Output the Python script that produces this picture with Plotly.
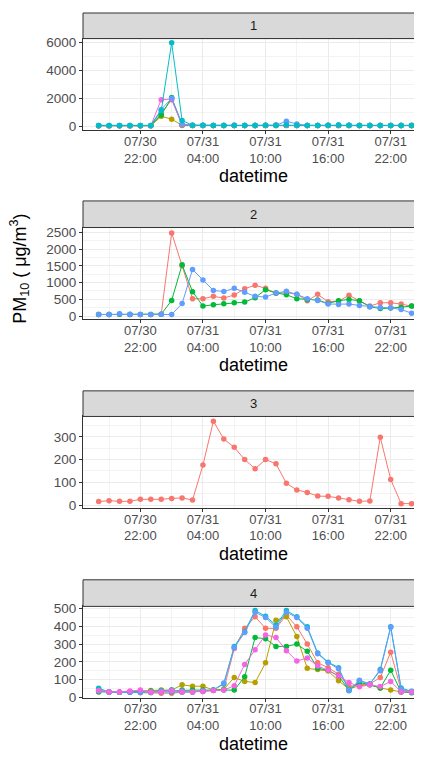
import plotly.graph_objects as go

# ---------------- data ----------------
times = [
    "2020-07-30 18:00", "2020-07-30 19:00", "2020-07-30 20:00", "2020-07-30 21:00",
    "2020-07-30 22:00", "2020-07-30 23:00", "2020-07-31 00:00", "2020-07-31 01:00",
    "2020-07-31 02:00", "2020-07-31 03:00", "2020-07-31 04:00", "2020-07-31 05:00",
    "2020-07-31 06:00", "2020-07-31 07:00", "2020-07-31 08:00", "2020-07-31 09:00",
    "2020-07-31 10:00", "2020-07-31 11:00", "2020-07-31 12:00", "2020-07-31 13:00",
    "2020-07-31 14:00", "2020-07-31 15:00", "2020-07-31 16:00", "2020-07-31 17:00",
    "2020-07-31 18:00", "2020-07-31 19:00", "2020-07-31 20:00", "2020-07-31 21:00",
    "2020-07-31 22:00", "2020-07-31 23:00", "2020-08-01 00:00",
]

panel_labels = ["1", "2", "3", "4"]

# Panel 1
p1_red =     [30, 30, 30, 30, 30, 30, 900, 1900, 80, 40, 40, 40, 40, 40, 40, 40, 40, 40, 60, 40, 40, 40, 40, 40, 40, 40, 40, 40, 40, 40, 40]
p1_olive =   [30, 30, 30, 30, 30, 30, 700, 500, 50, 40, 40, 40, 40, 40, 40, 40, 40, 40, 40, 40, 40, 40, 40, 40, 40, 40, 40, 40, 40, 40, 40]
p1_green =   [30, 30, 30, 30, 30, 30, 800, 2050, 100, 40, 40, 40, 40, 40, 40, 40, 40, 40, 50, 40, 40, 40, 40, 40, 40, 40, 40, 40, 40, 40, 40]
p1_magenta = [30, 30, 30, 30, 30, 30, 1900, 1950, 100, 40, 40, 40, 40, 70, 40, 40, 40, 80, 60, 40, 40, 40, 40, 40, 40, 40, 40, 40, 40, 40, 40]
p1_blue =    [50, 50, 50, 50, 50, 50, 1200, 2000, 150, 60, 60, 50, 50, 50, 50, 50, 60, 60, 350, 150, 50, 50, 60, 70, 60, 50, 50, 50, 50, 50, 50]
p1_cyan =    [50, 50, 50, 50, 50, 50, 1100, 6000, 400, 60, 60, 50, 50, 50, 50, 50, 60, 60, 100, 60, 50, 50, 60, 70, 60, 50, 50, 50, 50, 50, 50]

# Panel 2
p2_red =   [50, 50, 60, 50, 50, 50, 60, 2480, 1500, 520, 520, 590, 540, 630, 820, 920, 830, 680, 700, 650, 460, 650, 430, 450, 620, 450, 300, 400, 400, 360, 300]
p2_green = [50, 50, 60, 50, 50, 50, 60, 470, 1530, 730, 300, 340, 370, 400, 420, 550, 790, 690, 640, 520, 490, 480, 380, 460, 500, 460, 280, 230, 240, 260, 300]
p2_blue =  [50, 50, 70, 60, 50, 50, 60, 50, 375, 1390, 1080, 765, 735, 830, 715, 590, 570, 690, 740, 650, 520, 470, 360, 350, 360, 320, 280, 260, 250, 200, 90]

# Panel 3
p3_red = [16, 20, 17, 17, 26, 26, 26, 30, 32, 23, 176, 368, 290, 254, 200, 160, 200, 182, 96, 67, 56, 40, 39, 32, 24, 17, 19, 298, 113, 7, 7]

# Panel 4
p4_red =     [40, 30, 30, 30, 25, 25, 22, 22, 28, 30, 32, 38, 45, 275, 389, 454, 389, 389, 463, 398, 300, 194, 167, 130, 60, 70, 75, 111, 254, 40, 30]
p4_olive =   [35, 30, 28, 30, 35, 38, 40, 40, 70, 62, 62, 40, 45, 111, 89, 83, 194, 435, 454, 343, 163, 157, 148, 93, 46, 65, 70, 52, 41, 30, 30]
p4_green =   [30, 28, 28, 30, 32, 35, 38, 40, 40, 40, 40, 40, 40, 40, 115, 337, 330, 287, 287, 300, 259, 163, 152, 120, 40, 83, 70, 52, 152, 30, 25]
p4_cyan =    [50, 30, 28, 28, 28, 28, 30, 30, 30, 30, 35, 40, 75, 287, 370, 490, 457, 407, 490, 454, 398, 250, 198, 167, 37, 93, 74, 157, 398, 52, 33]
p4_blue =    [35, 30, 28, 28, 30, 30, 35, 40, 35, 30, 35, 40, 80, 280, 365, 480, 450, 395, 480, 450, 390, 245, 195, 160, 40, 95, 75, 150, 395, 45, 30]
p4_magenta = [38, 30, 30, 35, 40, 30, 30, 35, 30, 30, 32, 38, 40, 65, 185, 268, 352, 337, 263, 204, 222, 176, 152, 120, 83, 59, 70, 60, 89, 30, 30]

RED, OLIVE, GREEN, CYAN, BLUE, MAGENTA = "#F8766D", "#B79F00", "#00BA38", "#00BFC4", "#619CFF", "#F564E3"

panels = [
    ([p1_red, p1_olive, p1_green, p1_magenta, p1_blue, p1_cyan], [RED, OLIVE, GREEN, MAGENTA, BLUE, CYAN]),
    ([p2_red, p2_green, p2_blue], [RED, GREEN, BLUE]),
    ([p3_red], [RED]),
    ([p4_red, p4_olive, p4_green, p4_cyan, p4_blue, p4_magenta], [RED, OLIVE, GREEN, CYAN, BLUE, MAGENTA]),
]

y_ranges = [[-290, 6300], [-85, 2640], [-12, 389], [-4, 513]]
y_dticks = [2000, 500, 100, 100]

# page pixel layout (window 422 x 760, page body has an 8px margin)
OFF = 8
W, H = 422 - OFF, 760 - OFF
plot_left = 83 - OFF
plot_right_center = 424 - OFF
strip_tops = [t - OFF for t in [8, 199, 392, 584]]
plot_tops = [t - OFF for t in [34, 226, 418, 611]]
plot_bottoms = [t - OFF for t in [127, 319, 511, 704]]
title_ys = [t - OFF for t in [174, 366, 558, 751]]

fig = go.Figure()

for k, (series, cols) in enumerate(panels):
    xa = "x" if k == 0 else f"x{k+1}"
    ya = "y" if k == 0 else f"y{k+1}"
    for vals, c in zip(series, cols):
        fig.add_trace(go.Scatter(
            x=times, y=vals, mode="lines+markers",
            line=dict(color=c, width=1),
            marker=dict(color=c, size=5.5),
            xaxis=xa, yaxis=ya, showlegend=False,
        ))

    ydom = [1 - plot_bottoms[k] / H, 1 - plot_tops[k] / H]
    xkey = "xaxis" if k == 0 else f"xaxis{k+1}"
    ykey = "yaxis" if k == 0 else f"yaxis{k+1}"
    fig.layout[xkey] = dict(
        domain=[plot_left / W, 1.0], anchor=ya, type="date",
        range=["2020-07-30 16:30", "2020-08-01 01:00"],
        tick0="2020-07-30 22:00", dtick=6 * 3600 * 1000,
        tickformat="%m/%d<br>%H:%M",
        showgrid=True, gridcolor="#EBEBEB", gridwidth=1,
        minor=dict(tick0="2020-07-30 19:00", dtick=3 * 3600 * 1000,
                   showgrid=True, gridcolor="#F3F3F3", gridwidth=0.6),
        ticks="outside", ticklen=3, tickcolor="#333333", tickwidth=1,
        ticklabelstandoff=-4,
        showline=True, linecolor="#333333", linewidth=1, mirror=True,
        tickfont=dict(family="Liberation Sans", size=13, color="#4D4D4D"),
        zeroline=False,
    )
    fig.layout[ykey] = dict(
        domain=ydom, anchor=xa, range=y_ranges[k],
        tick0=0, dtick=y_dticks[k],
        showgrid=True, gridcolor="#EBEBEB", gridwidth=1,
        minor=dict(tick0=y_dticks[k] / 2, dtick=y_dticks[k],
                   showgrid=True, gridcolor="#F3F3F3", gridwidth=0.6),
        ticks="outside", ticklen=3, tickcolor="#333333", tickwidth=1,
        showline=True, linecolor="#333333", linewidth=1,
        tickfont=dict(family="Liberation Sans", size=13.5, color="#4D4D4D"),
        zeroline=False,
    )

    # strip
    fig.add_shape(type="rect", xref="paper", yref="paper",
                  x0=plot_left / W, x1=1.0,
                  y0=1 - plot_tops[k] / H, y1=1 - strip_tops[k] / H,
                  fillcolor="#D9D9D9", line=dict(color="#333333", width=1),
                  layer="above")
    fig.add_annotation(xref="paper", yref="paper",
                       x=(plot_left + plot_right_center) / 2 / W,
                       y=1 - (strip_tops[k] + plot_tops[k]) / 2 / H,
                       text=panel_labels[k], showarrow=False,
                       font=dict(family="Liberation Sans", size=13, color="#1A1A1A"),
                       xanchor="center", yanchor="middle")
    # x axis title
    fig.add_annotation(xref="paper", yref="paper",
                       x=(plot_left + plot_right_center) / 2 / W,
                       y=1 - title_ys[k] / H,
                       text="datetime", showarrow=False,
                       font=dict(family="Liberation Sans", size=18, color="#000000"),
                       xanchor="center", yanchor="middle")

# y axis title
fig.add_annotation(xref="paper", yref="paper", x=(20 - OFF) / W, y=1 - (268 - OFF) / H,
                   text="PM<sub>10</sub> ( μg/m<sup>3</sup>)", showarrow=False,
                   textangle=-90,
                   font=dict(family="Liberation Sans", size=18, color="#000000"),
                   xanchor="center", yanchor="middle")

fig.update_layout(
    width=W, height=H,
    margin=dict(l=0, r=0, t=0, b=0),
    paper_bgcolor="white", plot_bgcolor="white",
    showlegend=False,
)

fig.write_html("out.html")
